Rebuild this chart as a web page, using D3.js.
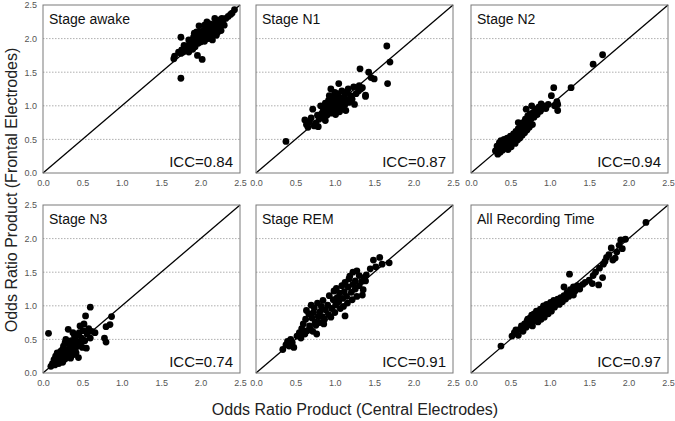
<!DOCTYPE html>
<html><head><meta charset="utf-8">
<script src="https://cdn.jsdelivr.net/npm/d3@7"></script>
<style>body{margin:0;background:#fff}svg{display:block}</style>
</head><body>
<svg id="c" width="675" height="421"></svg>
<script>
const panelTitles = ["Stage awake","Stage N1","Stage N2","Stage N3","Stage REM","All Recording Time"];
const iccLabels = ["ICC=0.84","ICC=0.87","ICC=0.94","ICC=0.74","ICC=0.91","ICC=0.97"];
const tickValues = [0,0.5,1.0,1.5,2.0,2.5];
const gridValues = [0.5,1.0,1.5,2.0];
const xTitle = "Odds Ratio Product (Central Electrodes)";
const yTitle = "Odds Ratio Product (Frontal Electrodes)";

const awake = [[1.66,1.70],[1.67,1.74],[1.72,1.80],[1.75,1.78],[1.76,1.83],[1.78,1.80],[1.80,1.85],[1.79,1.90],[1.82,1.82],[1.83,1.88],[1.85,1.80],[1.86,1.92],[1.87,1.86],[1.88,1.95],[1.89,1.89],[1.90,1.84],[1.90,1.98],[1.91,2.02],[1.92,1.92],[1.93,1.88],[1.94,1.96],[1.95,2.05],[1.96,1.99],[1.97,1.93],[1.98,2.08],[1.99,2.01],[2.00,1.95],[2.00,2.10],[2.01,2.04],[2.02,1.98],[2.03,2.07],[2.04,2.12],[2.05,2.02],[2.05,1.96],[2.06,2.09],[2.07,2.15],[2.08,2.05],[2.09,2.11],[2.10,2.00],[2.10,2.18],[2.11,2.08],[2.12,2.14],[2.13,2.04],[2.14,2.20],[2.15,2.10],[2.16,2.16],[2.17,2.06],[2.18,2.22],[2.19,2.13],[2.20,2.19],[2.21,2.25],[2.22,2.10],[2.23,2.17],[2.24,2.28],[2.25,2.22],[2.26,2.12],[2.28,2.26],[2.30,2.20],[2.32,2.30],[2.35,2.33],[2.38,2.36],[2.40,2.38],[2.43,2.43],[1.75,1.41],[1.75,2.02],[1.96,1.75],[2.02,1.69],[1.98,2.19],[1.95,2.10],[2.05,2.20],[2.08,2.25],[1.85,1.98],[2.15,1.98],[2.20,2.05],[1.92,2.08],[2.12,2.22],[2.18,2.30],[2.27,2.30]];

const n1 = [[0.38,0.47],[0.62,0.79],[0.64,0.72],[0.66,0.68],[0.68,0.76],[0.70,0.82],[0.72,0.95],[0.74,0.70],[0.76,0.74],[0.78,0.86],[0.79,0.69],[0.80,0.80],[0.82,1.00],[0.83,0.88],[0.85,0.92],[0.86,0.83],[0.87,0.97],[0.88,1.04],[0.89,0.90],[0.90,0.86],[0.91,0.99],[0.92,1.08],[0.93,0.94],[0.94,1.02],[0.95,0.89],[0.96,1.12],[0.97,0.97],[0.98,1.05],[0.99,0.92],[1.00,1.15],[1.00,1.00],[1.01,0.87],[1.02,1.08],[1.03,0.96],[1.04,1.18],[1.05,1.33],[1.05,1.03],[1.06,0.91],[1.07,1.11],[1.08,1.00],[1.09,1.22],[1.10,1.06],[1.11,0.95],[1.12,1.14],[1.13,1.02],[1.14,0.93],[1.15,1.20],[1.16,1.09],[1.17,1.25],[1.18,1.05],[1.20,1.15],[1.22,1.10],[1.24,1.28],[1.25,1.02],[1.27,1.18],[1.30,1.22],[1.31,1.30],[1.33,1.25],[1.35,1.27],[1.39,1.16],[1.32,1.55],[1.43,1.50],[1.46,1.42],[1.50,1.40],[1.66,1.89],[1.70,1.65],[1.67,1.33],[1.39,1.14],[0.95,1.25],[0.88,0.78],[1.00,1.20],[0.93,1.15]];

const n2 = [[0.31,0.33],[0.33,0.40],[0.34,0.28],[0.35,0.36],[0.36,0.45],[0.37,0.31],[0.38,0.48],[0.39,0.38],[0.40,0.34],[0.41,0.42],[0.42,0.50],[0.43,0.37],[0.44,0.45],[0.45,0.40],[0.46,0.52],[0.47,0.35],[0.48,0.47],[0.49,0.43],[0.50,0.55],[0.51,0.39],[0.52,0.50],[0.53,0.46],[0.54,0.58],[0.55,0.52],[0.56,0.44],[0.57,0.62],[0.58,0.55],[0.59,0.49],[0.60,0.66],[0.61,0.58],[0.62,0.52],[0.63,0.70],[0.64,0.63],[0.65,0.56],[0.66,0.75],[0.67,0.67],[0.68,0.60],[0.69,0.80],[0.70,0.72],[0.71,0.64],[0.72,0.85],[0.73,0.76],[0.74,0.68],[0.75,0.88],[0.76,0.80],[0.77,1.00],[0.78,0.72],[0.79,0.90],[0.80,0.83],[0.82,0.95],[0.84,0.87],[0.86,0.98],[0.88,0.92],[0.89,1.03],[0.92,1.00],[0.95,0.96],[0.98,1.02],[1.02,1.15],[1.05,1.27],[1.06,1.00],[1.09,1.06],[1.10,1.02],[1.10,0.93],[1.27,1.27],[1.55,1.62],[1.67,1.76],[0.70,0.95],[0.60,0.75]];

const n3 = [[0.07,0.59],[0.10,0.10],[0.12,0.14],[0.14,0.20],[0.15,0.12],[0.16,0.25],[0.17,0.17],[0.18,0.30],[0.19,0.22],[0.20,0.14],[0.21,0.27],[0.22,0.19],[0.23,0.33],[0.24,0.24],[0.25,0.16],[0.26,0.40],[0.27,0.28],[0.28,0.21],[0.29,0.50],[0.30,0.34],[0.31,0.25],[0.32,0.65],[0.32,0.44],[0.33,0.30],[0.34,0.38],[0.35,0.22],[0.36,0.48],[0.37,0.33],[0.38,0.27],[0.39,0.42],[0.40,0.55],[0.41,0.36],[0.42,0.30],[0.43,0.47],[0.44,0.40],[0.45,0.23],[0.46,0.60],[0.47,0.70],[0.48,0.45],[0.49,0.52],[0.50,0.38],[0.51,0.63],[0.52,0.73],[0.53,0.48],[0.54,0.85],[0.55,0.37],[0.56,0.58],[0.58,0.66],[0.60,0.98],[0.60,0.52],[0.62,0.62],[0.66,0.60],[0.78,0.52],[0.80,0.46],[0.80,0.69],[0.85,0.72],[0.87,0.84],[0.28,0.45],[0.38,0.60],[0.25,0.35],[0.20,0.30],[0.42,0.55]];

const rem = [[0.34,0.35],[0.38,0.42],[0.40,0.47],[0.42,0.40],[0.44,0.50],[0.46,0.45],[0.48,0.38],[0.52,0.55],[0.55,0.60],[0.57,0.52],[0.58,0.66],[0.60,0.73],[0.62,0.58],[0.63,0.80],[0.64,0.93],[0.65,0.63],[0.67,0.88],[0.68,0.70],[0.69,0.65],[0.70,1.01],[0.71,0.82],[0.72,0.62],[0.73,0.90],[0.75,0.76],[0.74,0.97],[0.76,0.71],[0.77,0.58],[0.79,0.84],[0.78,1.04],[0.81,0.91],[0.81,0.75],[0.83,0.99],[0.84,0.84],[0.86,0.73],[0.85,1.08],[0.88,0.94],[0.87,0.80],[0.91,1.01],[0.92,0.87],[0.93,1.15],[0.96,0.96],[0.95,0.83],[0.98,1.09],[0.99,1.22],[1.01,1.01],[1.00,0.90],[1.03,1.12],[1.02,1.26],[1.05,1.06],[1.07,0.96],[1.06,1.19],[1.09,1.30],[1.10,1.11],[1.11,0.99],[1.12,1.21],[1.13,1.35],[1.13,0.85],[1.15,1.14],[1.16,1.04],[1.17,1.28],[1.18,1.40],[1.19,1.44],[1.21,1.20],[1.22,1.09],[1.23,1.32],[1.23,1.50],[1.26,1.25],[1.26,1.37],[1.28,1.14],[1.28,1.52],[1.31,1.30],[1.31,1.45],[1.34,1.36],[1.35,1.16],[1.36,1.24],[1.37,1.42],[1.39,1.37],[1.40,1.46],[1.45,1.55],[1.49,1.68],[1.52,1.58],[1.57,1.72],[1.60,1.62],[1.69,1.64]];

const allRec = [[0.38,0.40],[0.52,0.55],[0.55,0.60],[0.57,0.64],[0.60,0.56],[0.62,0.65],[0.64,0.70],[0.66,0.62],[0.68,0.73],[0.70,0.68],[0.71,0.77],[0.72,0.80],[0.74,0.72],[0.75,0.82],[0.76,0.76],[0.77,0.86],[0.78,0.70],[0.79,0.80],[0.80,0.88],[0.81,0.78],[0.82,0.84],[0.83,0.92],[0.84,0.82],[0.85,0.76],[0.86,0.90],[0.87,0.85],[0.88,0.95],[0.89,0.80],[0.90,0.92],[0.91,0.87],[0.92,1.00],[0.93,0.83],[0.94,0.96],[0.95,0.90],[0.96,1.02],[0.97,0.94],[0.98,0.88],[0.99,1.00],[1.00,0.95],[1.01,1.05],[1.02,0.92],[1.03,1.00],[1.05,1.08],[1.06,0.98],[1.08,1.04],[1.10,1.10],[1.12,1.02],[1.14,1.12],[1.16,1.06],[1.18,1.28],[1.18,1.15],[1.20,1.10],[1.22,1.20],[1.24,1.14],[1.25,1.47],[1.26,1.24],[1.28,1.18],[1.30,1.16],[1.30,1.28],[1.32,1.22],[1.35,1.30],[1.38,1.25],[1.42,1.32],[1.45,1.35],[1.50,1.38],[1.54,1.33],[1.55,1.45],[1.58,1.50],[1.62,1.31],[1.63,1.56],[1.67,1.42],[1.68,1.62],[1.70,1.66],[1.72,1.72],[1.75,1.76],[1.78,1.86],[1.80,1.68],[1.83,1.71],[1.85,1.80],[1.88,1.90],[1.90,1.98],[1.92,1.85],[1.96,1.99],[2.22,2.24]];

const datasets = [awake, n1, n2, n3, rem, allRec];

const svg = d3.select("#c");
const font = "'Liberation Sans', Arial, sans-serif";
const lefts = [43, 256, 471];
const tops = [5, 205];
const W = 197, H = 168;

datasets.forEach((data, i) => {
  const col = i % 3, row = Math.floor(i / 3);
  const g = svg.append("g").attr("transform", `translate(${lefts[col]},${tops[row]})`);
  const x = d3.scaleLinear().domain([0, 2.5]).range([0, W]);
  const y = d3.scaleLinear().domain([0, 2.5]).range([H, 0]);

  g.selectAll("line.grid").data(gridValues).join("line")
    .attr("x1", 0).attr("x2", W).attr("y1", d => y(d)).attr("y2", d => y(d))
    .attr("stroke", "#9a9a9a").attr("stroke-width", 0.8).attr("stroke-dasharray", "1.5,1.5");

  g.append("line").attr("x1", x(0)).attr("y1", y(0)).attr("x2", x(2.5)).attr("y2", y(2.5))
    .attr("stroke", "#000").attr("stroke-width", 1.3);

  g.selectAll("circle").data(data).join("circle")
    .attr("cx", d => x(d[0])).attr("cy", d => y(d[1])).attr("r", 3.4).attr("fill", "#000");

  g.append("rect").attr("x", 0).attr("y", 0).attr("width", W).attr("height", H)
    .attr("fill", "none").attr("stroke", "#7a7a7a").attr("stroke-width", 1);

  const xa = g.append("g").attr("transform", `translate(0,${H})`)
    .call(d3.axisBottom(x).tickValues(tickValues).tickFormat(d3.format(".1f")).tickSize(0).tickPadding(7));
  xa.select(".domain").remove();
  xa.selectAll("text").attr("fill", "#555").attr("font-size", 9).attr("font-family", font);

  if (col === 0) {
    const ya = g.append("g")
      .call(d3.axisLeft(y).tickValues(tickValues).tickFormat(d3.format(".1f")).tickSize(0).tickPadding(6));
    ya.select(".domain").remove();
    ya.selectAll("text").attr("fill", "#555").attr("font-size", 9).attr("font-family", font);
  }

  g.append("text").attr("x", 6).attr("y", 19).text(panelTitles[i])
    .attr("font-family", font).attr("font-size", 14).attr("fill", "#111");
  g.append("text").attr("x", W - 7).attr("y", H - 6).attr("text-anchor", "end").text(iccLabels[i])
    .attr("font-family", font).attr("font-size", 15).attr("fill", "#111");
});

svg.append("text").attr("x", 355).attr("y", 415).attr("text-anchor", "middle").text(xTitle)
  .attr("font-family", font).attr("font-size", 16).attr("fill", "#222");
svg.append("text").attr("transform", "translate(17,190) rotate(-90)").attr("text-anchor", "middle").text(yTitle)
  .attr("font-family", font).attr("font-size", 16).attr("fill", "#222");
</script>
</body></html>
